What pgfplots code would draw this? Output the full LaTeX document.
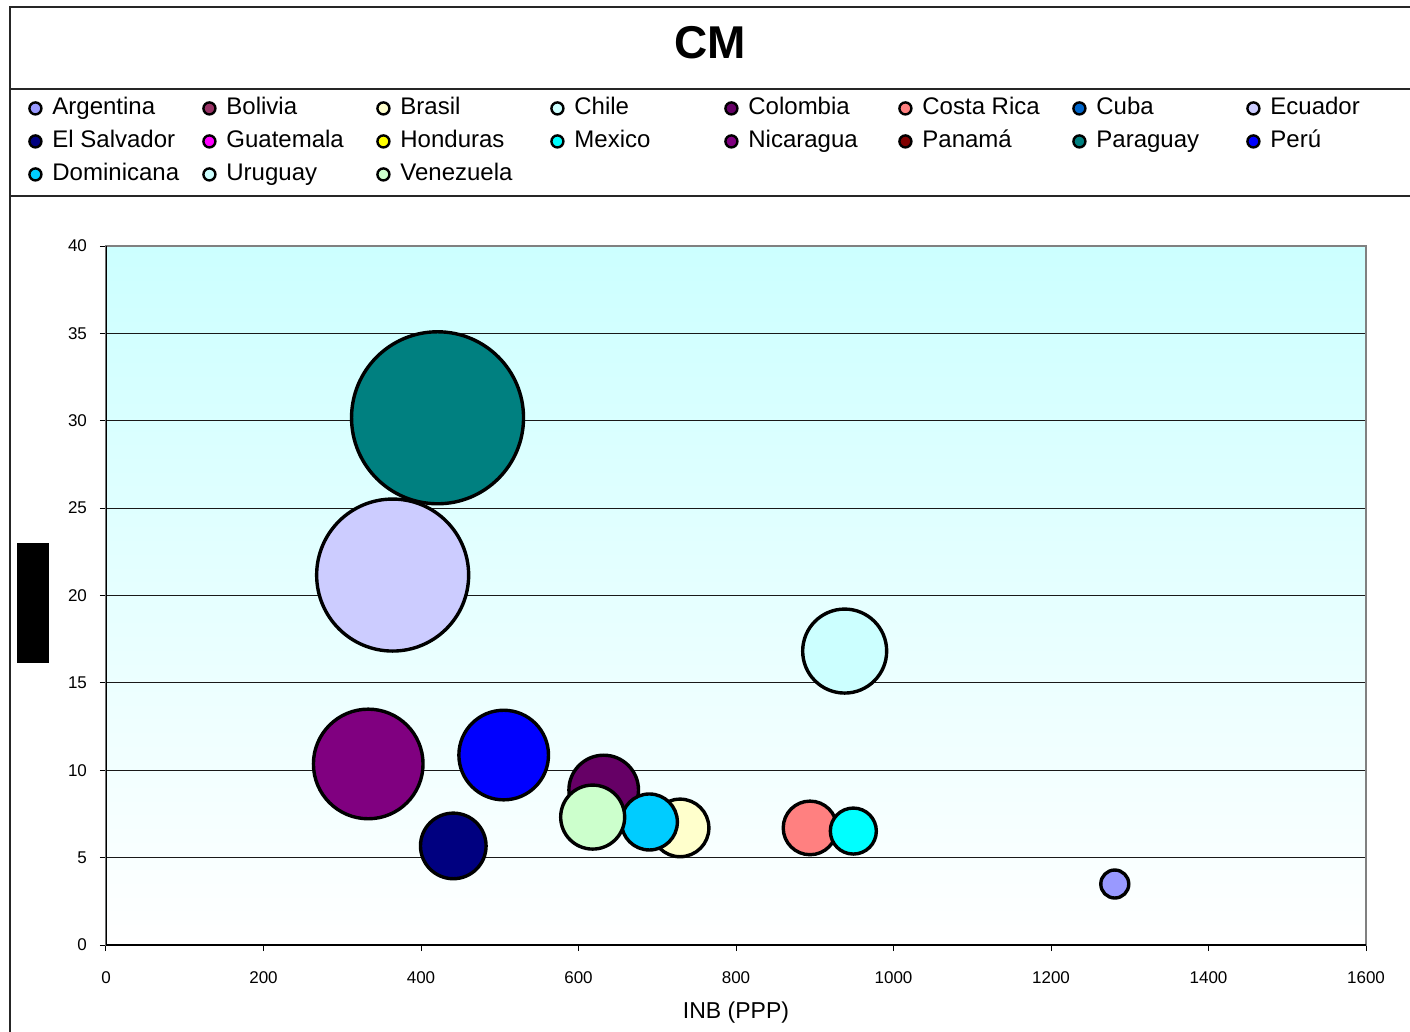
\documentclass[border=0pt]{standalone}
\usepackage{pgfplots}
\pgfplotsset{compat=1.18}
\usepackage{fontspec}
\setmainfont{Liberation Sans}

\definecolor{cArg}{HTML}{9999FF}
\definecolor{cBol}{HTML}{993366}
\definecolor{cBra}{HTML}{FFFFCC}
\definecolor{cChi}{HTML}{CCFFFF}
\definecolor{cCol}{HTML}{660066}
\definecolor{cCos}{HTML}{FF8080}
\definecolor{cCub}{HTML}{0066CC}
\definecolor{cEcu}{HTML}{CCCCFF}
\definecolor{cSal}{HTML}{000080}
\definecolor{cGua}{HTML}{FF00FF}
\definecolor{cHon}{HTML}{FFFF00}
\definecolor{cMex}{HTML}{00FFFF}
\definecolor{cNic}{HTML}{800080}
\definecolor{cPan}{HTML}{800000}
\definecolor{cPar}{HTML}{008080}
\definecolor{cPer}{HTML}{0000FF}
\definecolor{cDom}{HTML}{00CCFF}
\definecolor{cUru}{HTML}{CCFFFF}
\definecolor{cVen}{HTML}{CCFFCC}
\definecolor{bgTop}{HTML}{CCFFFF}

\newcommand{\lent}[1]{\makebox[70pt][l]{#1}}

\begin{document}
\begin{tikzpicture}
\path[use as bounding box] (0,0) rectangle (705pt,-516pt);
% frame, title (coordinates in pixels of the reference)
\begin{scope}[x=0.5pt,y=-0.5pt]
\draw[line width=0.9pt, black!85] (10,7) rectangle (1425,1045);
\draw[line width=0.9pt, black!85] (10,89) -- (1425,89);
\draw[line width=0.9pt, black!85] (10,196) -- (1425,196);
\node[font=\bfseries\fontsize{23}{26}\selectfont, inner sep=0pt] at (710,43) {CM};
\end{scope}

\begin{axis}[
  at={(53pt,-472.5pt)}, anchor=south west,
  scale only axis, width=630pt, height=349.5pt,
  xmin=0, xmax=1600, ymin=0, ymax=40,
  xtick={0,200,...,1600}, ytick={0,5,...,40},
  axis background/.style={top color=bgTop, bottom color=white},
  ymajorgrids, grid style={black!90, line width=0.55pt},
  axis line style={draw=gray, line width=1.3pt},
  tick pos=left, tick align=outside, major tick length=3pt,
  tick style={black, line width=0.5pt},
  /pgf/number format/assume math mode=true,
  /pgf/number format/1000 sep={},
  ticklabel style={font=\fontsize{8.5}{10}\selectfont},
  xticklabel style={yshift=-7pt},
  yticklabel style={xshift=-3pt},
  xlabel={INB (PPP)},
  xlabel style={font=\fontsize{11.5}{13}\selectfont, at={(axis description cs:0.5,0)}, anchor=center, yshift=-34pt},
  ylabel={\mbox{}},
  ylabel style={at={(axis description cs:0,0.489)}, anchor=center, yshift=36.5pt, fill=black, inner sep=0pt, minimum width=60pt, minimum height=16pt},
  legend columns=8,
  legend cell align=left,
  legend style={at={(axis description cs:-0.0611,1.2160)}, anchor=north west, draw=none, fill=none, inner sep=0pt,
    column sep=4.5pt, row sep=3.5pt,
    font=\fontsize{12}{14}\selectfont,
    nodes={inner sep=1pt, text height=8.5pt, text depth=2.5pt}},
  legend image code/.code={\draw[#1, mark size=3pt, line width=1.2pt] plot coordinates {(3.5pt,0pt)};},
  every axis plot/.append style={only marks, mark=*, draw=black, line width=1.7pt},
]
\addplot[fill=cArg, mark size=7pt] coordinates {(1281,3.49)};
\addlegendentry{\lent{Argentina}}
\addlegendimage{only marks, mark=*, draw=black, fill=cBol}
\addlegendentry{\lent{Bolivia}}
\addplot[fill=cBra, mark size=14.4pt] coordinates {(729,6.70)};
\addlegendentry{\lent{Brasil}}
\addplot[fill=cChi, mark size=21pt] coordinates {(938,16.82)};
\addlegendentry{\lent{Chile}}
\addplot[fill=cCol, mark size=17.4pt] coordinates {(632,8.87)};
\addlegendentry{\lent{Colombia}}
\addplot[fill=cCos, mark size=13.4pt] coordinates {(894,6.70)};
\addlegendentry{\lent{Costa Rica}}
\addlegendimage{only marks, mark=*, draw=black, fill=cCub}
\addlegendentry{\lent{Cuba}}
\addplot[fill=cEcu, mark size=38pt] coordinates {(364,21.17)};
\addlegendentry{\lent{Ecuador}}
\addplot[fill=cSal, mark size=16.4pt] coordinates {(441,5.67)};
\addlegendentry{\lent{El Salvador}}
\addlegendimage{only marks, mark=*, draw=black, fill=cGua}
\addlegendentry{\lent{Guatemala}}
\addlegendimage{only marks, mark=*, draw=black, fill=cHon}
\addlegendentry{\lent{Honduras}}
\addplot[fill=cMex, mark size=11.5pt] coordinates {(949,6.52)};
\addlegendentry{\lent{Mexico}}
\addplot[fill=cNic, mark size=27.4pt] coordinates {(333,10.36)};
\addlegendentry{\lent{Nicaragua}}
\addlegendimage{only marks, mark=*, draw=black, fill=cPan}
\addlegendentry{\lent{Panamá}}
\addplot[fill=cPar, mark size=43pt] coordinates {(421,30.17)};
\addlegendentry{\lent{Paraguay}}
\addplot[fill=cPer, mark size=22.4pt] coordinates {(505,10.87)};
\addlegendentry{\lent{Perú}}
\addplot[fill=cDom, mark size=14pt] coordinates {(690,7.04)};
\addlegendentry{\lent{Dominicana}}
\addlegendimage{only marks, mark=*, draw=black, fill=cUru}
\addlegendentry{\lent{Uruguay}}
\addplot[fill=cVen, mark size=16pt] coordinates {(618,7.32)};
\addlegendentry{\lent{Venezuela}}
% left and bottom axis lines
\draw[black, line width=0.8pt] (rel axis cs:0,1) -- (rel axis cs:0,0) -- (rel axis cs:1,0);
\end{axis}
\end{tikzpicture}
\end{document}
